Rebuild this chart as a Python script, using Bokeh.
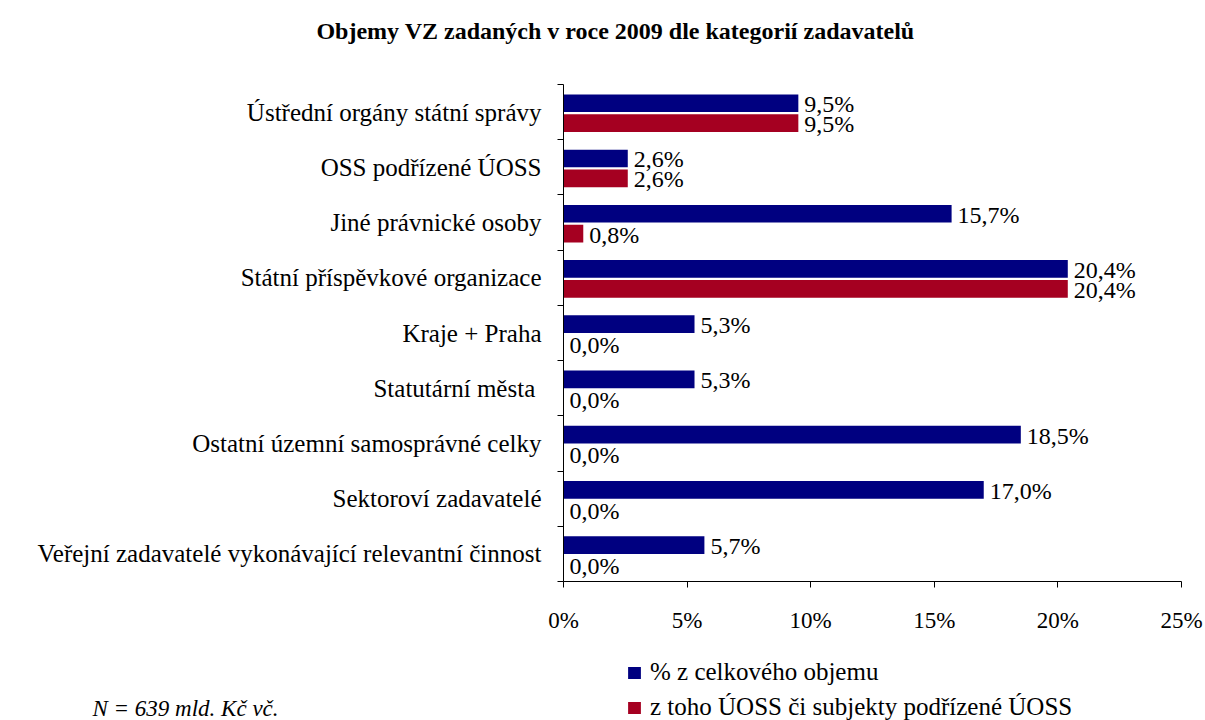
from bokeh.plotting import figure
from bokeh.models import (ColumnDataSource, FixedTicker, LabelSet, Label, Legend, LegendItem, Range1d)
from bokeh.embed import file_html
from bokeh.resources import INLINE

title_text = "Objemy VZ zadaných v roce 2009 dle kategorií zadavatelů"
categories = [
    "Ústřední orgány státní správy",
    "OSS podřízené ÚOSS",
    "Jiné právnické osoby",
    "Státní příspěvkové organizace",
    "Kraje + Praha",
    "Statutární města ",
    "Ostatní územní samosprávné celky",
    "Sektoroví zadavatelé",
    "Veřejní zadavatelé vykonávající relevantní činnost",
]
total_pct = [9.5, 2.6, 15.7, 20.4, 5.3, 5.3, 18.5, 17.0, 5.7]
uoss_pct = [9.5, 2.6, 0.8, 20.4, 0.0, 0.0, 0.0, 0.0, 0.0]
series_names = ["% z celkového objemu", "z toho ÚOSS či subjekty podřízené ÚOSS"]
x_ticks = [0, 5, 10, 15, 20, 25]
footnote = "N = 639 mld. Kč vč."

BLUE = "#000080"
RED = "#A50021"
FONT = "Liberation Serif"

W, H = 1205, 720
# frame geometry (pixels) of the value area inside the canvas
X0, X1 = 563, 1181      # 0% .. 25%
Y0, Y1 = 84, 581        # top .. bottom of category axis

n = len(categories)
xmax = x_ticks[-1]
sx = (X1 - X0) / xmax
sy = (Y1 - Y0) / n
x_range = Range1d(-X0 / sx, xmax + (W - X1) / sx)
y_range = Range1d(-(H - Y1) / sy, n + Y0 / sy)

centers = [n - i - 0.5 for i in range(n)]

def fmt(v):
    return f"{v:.1f}".replace(".", ",") + "%"

src_a = ColumnDataSource(dict(y=[c + 0.16 for c in centers], v=total_pct, lab=[fmt(v) for v in total_pct]))
src_b = ColumnDataSource(dict(y=[c - 0.20 for c in centers], v=uoss_pct, lab=[fmt(v) for v in uoss_pct]))

p = figure(width=W, height=H, output_backend="svg", toolbar_location=None,
           x_range=x_range, y_range=y_range,
           min_border=0, min_border_left=0, min_border_right=0, min_border_top=0, min_border_bottom=0)
p.outline_line_color = None
p.xgrid.grid_line_color = None
p.ygrid.grid_line_color = None
p.background_fill_color = "white"
p.border_fill_color = "white"

ra = p.hbar(y="y", right="v", left=0, height=0.32, source=src_a, fill_color=BLUE, line_color=None)
rb = p.hbar(y="y", right="v", left=0, height=0.32, source=src_b, fill_color=RED, line_color=None)

for src in (src_a, src_b):
    p.add_layout(LabelSet(x="v", y="y", text="lab", source=src, x_offset=6, y_offset=-1,
                          text_baseline="middle", text_align="left", text_font=FONT,
                          text_font_size="24px", text_color="black"))

# x axis
xa = p.xaxis[0]
xa.fixed_location = 0
xa.bounds = (0, xmax)
xa.ticker = FixedTicker(ticks=x_ticks, minor_ticks=[])
xa.major_label_overrides = {t: f"{t}%" for t in x_ticks}
xa.major_tick_in = 0
xa.major_tick_out = 6
xa.minor_tick_line_color = None
xa.major_label_standoff = 20
xa.major_label_text_font = FONT
xa.major_label_text_font_size = "23px"
xa.major_label_text_color = "black"
xa.axis_line_color = "black"
xa.major_tick_line_color = "black"

# y axis
ya = p.yaxis[0]
ya.fixed_location = 0
ya.bounds = (0, n)
ya.ticker = FixedTicker(ticks=centers, minor_ticks=list(range(n + 1)))
ya.major_label_overrides = {c: name for c, name in zip(centers, categories)}
ya.major_tick_line_color = None
ya.major_tick_in = 0
ya.major_tick_out = 6
ya.minor_tick_in = 0
ya.minor_tick_out = 6
ya.minor_tick_line_color = "black"
ya.major_label_standoff = 16
ya.major_label_text_font = FONT
ya.major_label_text_font_size = "25px"
ya.major_label_text_color = "black"
ya.axis_line_color = "black"

# title
p.add_layout(Label(x=(615 - X0) / sx, y=n + (Y0 - 30) / sy, text=title_text,
                   text_align="center", text_baseline="middle",
                   text_font=FONT, text_font_style="bold", text_font_size="24px", text_color="black"))
# footnote
p.add_layout(Label(x=(92 - X0) / sx, y=-(708 - Y1) / sy, text=footnote,
                   text_align="left", text_baseline="middle",
                   text_font=FONT, text_font_style="italic", text_font_size="23px", text_color="black"))

legend = Legend(items=[LegendItem(label=series_names[0], renderers=[ra]),
                       LegendItem(label=series_names[1], renderers=[rb])],
                location=(626, -1), orientation="vertical",
                glyph_width=16, glyph_height=15, label_standoff=8, spacing=7,
                padding=0, margin=0, border_line_color=None, background_fill_alpha=0,
                label_text_font=FONT, label_text_font_size="25px", label_text_color="black",
                label_height=24)
p.add_layout(legend, "center")

open("out.html", "w").write(file_html(p, INLINE))
